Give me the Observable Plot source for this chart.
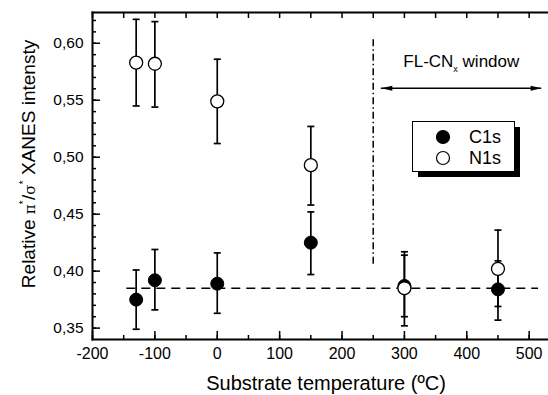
<!DOCTYPE html>
<html><head><meta charset="utf-8">
<script src="https://cdn.jsdelivr.net/npm/d3@7"></script>
<script src="https://cdn.jsdelivr.net/npm/@observablehq/plot@0.6"></script>
<style>body{margin:0;background:#fff} svg{display:block}</style>
</head><body><div id="chart"></div>
<script>
// ---- data ----
const temperatures = [-130, -100, 0, 150, 300, 450];
const c1sValues = [0.375, 0.392, 0.389, 0.425, 0.387, 0.384];
const c1sLow    = [0.349, 0.366, 0.363, 0.397, 0.360, 0.357];
const c1sHigh   = [0.401, 0.419, 0.416, 0.452, 0.414, 0.409];
const n1sValues = [0.583, 0.582, 0.549, 0.493, 0.385, 0.402];
const n1sLow    = [0.545, 0.544, 0.512, 0.458, 0.352, 0.369];
const n1sHigh   = [0.621, 0.619, 0.586, 0.527, 0.417, 0.436];
const xTicks = [-200, -100, 0, 100, 200, 300, 400, 500];
const xMinorTicks = d3.range(-200, 531, 50);
const yTicks = [0.35, 0.40, 0.45, 0.50, 0.55, 0.60];
const yMinorTicks = d3.range(35, 63).map(d => d / 100);
const xDomain = [-200, 531];
const yDomain = [0.34, 0.627];
const referenceLevel = [0.385];
const referenceSpan = [-145, 515];
const windowStart = [250];
const windowLineSpan = [0.406, 0.603];
const windowArrowSpan = [263, 520];
const windowArrowLevel = [0.5605];
const windowLabelPos = [392, 0.579];
const seriesNames = ["C1s", "N1s"];

const c1s = temperatures.map((t, i) => ({t, v: c1sValues[i], lo: c1sLow[i], hi: c1sHigh[i]}));
const n1s = temperatures.map((t, i) => ({t, v: n1sValues[i], lo: n1sLow[i], hi: n1sHigh[i]}));

const capSymbol = {draw(ctx) { ctx.moveTo(-3.5, 0); ctx.lineTo(3.5, 0); }};
const headSymbol = {draw(ctx) { ctx.moveTo(0, 0); ctx.lineTo(-11, -2.6); ctx.lineTo(-11, 2.6); ctx.closePath(); }};
const fmt = d => d.toFixed(2).replace(".", ",");
const xFmt = d => String(d);
const noLabel = () => "";

function errorMarks(data) {
  return [
    Plot.ruleX(data, {x: "t", y1: "lo", y2: "hi", stroke: "black", strokeWidth: 1.7}),
    Plot.dot(data, {x: "t", y: "lo", symbol: capSymbol, r: 3.5, stroke: "black", fill: "none", strokeWidth: 1.7}),
    Plot.dot(data, {x: "t", y: "hi", symbol: capSymbol, r: 3.5, stroke: "black", fill: "none", strokeWidth: 1.7})
  ];
}

const chart = Plot.plot({
  width: 548, height: 395,
  marginLeft: 92, marginRight: 0, marginTop: 12, marginBottom: 56,
  style: {fontFamily: "'Liberation Sans', Arial, sans-serif", fontSize: "15px", color: "black", background: "white"},
  x: {domain: xDomain},
  y: {domain: yDomain},
  marks: [
    // reference level
    Plot.ruleY(referenceLevel, {x1: referenceSpan[0], x2: referenceSpan[1], y: d => d, stroke: "black", strokeWidth: 1.5, strokeDasharray: "9,6"}),
    // window boundary
    Plot.ruleX(windowStart, {x: d => d, y1: windowLineSpan[0], y2: windowLineSpan[1], stroke: "black", strokeWidth: 1.5, strokeDasharray: "7,3,1.5,3"}),
    // window arrow
    Plot.ruleY(windowArrowLevel, {x1: windowArrowSpan[0], x2: windowArrowSpan[1], y: d => d, stroke: "black", strokeWidth: 1.6}),
    Plot.dot(windowArrowLevel, {x: windowArrowSpan[1], y: d => d, symbol: headSymbol, r: 4, fill: "black", stroke: "none"}),
    Plot.dot(windowArrowLevel, {x: windowArrowSpan[0], y: d => d, symbol: headSymbol, rotate: 180, r: 4, fill: "black", stroke: "none"}),
    // error bars + points
    ...errorMarks(c1s),
    Plot.dot(c1s, {x: "t", y: "v", r: 6.5, fill: "black", stroke: "black", strokeWidth: 1}),
    ...errorMarks(n1s),
    Plot.dot(n1s, {x: "t", y: "v", r: 6.5, fill: "white", stroke: "black", strokeWidth: 1.3}),
    // axes (inward ticks)
    Plot.axisX({ticks: xMinorTicks, tickFormat: noLabel, tickSize: -4, anchor: "bottom", label: null, strokeWidth: 1.5}),
    Plot.axisX({ticks: xTicks, tickFormat: xFmt, tickSize: -8, tickPadding: 16, anchor: "bottom", label: null, strokeWidth: 1.5, fontSize: 16}),
    Plot.axisX({ticks: xMinorTicks, tickFormat: noLabel, tickSize: -5, anchor: "top", label: null, strokeWidth: 1.5}),
    Plot.axisY({ticks: yMinorTicks, tickFormat: noLabel, tickSize: -4, anchor: "left", label: null, strokeWidth: 1.5}),
    Plot.axisY({ticks: yTicks, tickFormat: fmt, tickSize: -8, tickPadding: 17, anchor: "left", label: null, strokeWidth: 1.5, fontSize: 15.5}),
    // frame lines
    Plot.frame({anchor: "left", strokeWidth: 2}),
    Plot.frame({anchor: "top", strokeWidth: 2}),
    Plot.frame({anchor: "bottom", strokeWidth: 2})
  ]
});

const svg = d3.select(chart);
const sx = chart.scale("x"), sy = chart.scale("y");
const font = "'Liberation Sans', Arial, sans-serif";

// x label
svg.append("text").attr("x", 326).attr("y", 390).attr("text-anchor", "middle")
  .attr("font-family", font).attr("font-size", 20).attr("fill", "black")
  .text("Substrate temperature (ºC)");

// y label with superscript stars
const yl = svg.append("text").attr("transform", "translate(35,164) rotate(-90)")
  .attr("text-anchor", "middle").attr("font-family", font).attr("font-size", 19).attr("fill", "black");
yl.append("tspan").text("Relative ");
yl.append("tspan").attr("font-family", "'DejaVu Serif', serif").attr("font-size", 15).text("π");
yl.append("tspan").attr("dy", -8).attr("font-size", 11).text("*");
yl.append("tspan").attr("dy", 8).text("/");
yl.append("tspan").attr("font-family", "'DejaVu Serif', serif").attr("font-size", 15).text("σ");
yl.append("tspan").attr("dy", -8).attr("font-size", 11).text("*");
yl.append("tspan").attr("dy", 8).text(" XANES intensty");

// window label
const wl = svg.append("text").attr("x", sx.apply(windowLabelPos[0])).attr("y", sy.apply(windowLabelPos[1]))
  .attr("text-anchor", "middle").attr("font-family", font).attr("font-size", 17).attr("fill", "black");
wl.append("tspan").text("FL-CN");
wl.append("tspan").attr("dy", 5).attr("font-size", 9).text("x");
wl.append("tspan").attr("dy", -5).text(" window");

// legend
const lg = svg.append("g").attr("transform", "translate(412,121)");
lg.append("rect").attr("x", 6).attr("y", 6).attr("width", 102).attr("height", 50).attr("fill", "black");
lg.append("rect").attr("x", 0.5).attr("y", 0.5).attr("width", 102).attr("height", 50).attr("fill", "white").attr("stroke", "black");
seriesNames.forEach((name, i) => {
  const cy = 16 + i * 21;
  lg.append("circle").attr("cx", 31).attr("cy", cy).attr("r", 6.5).attr("fill", i === 0 ? "black" : "white").attr("stroke", "black").attr("stroke-width", 1.2);
  lg.append("text").attr("x", 57).attr("y", cy + 6).attr("text-anchor", "start").attr("font-family", font).attr("font-size", 18).attr("fill", "black").text(name);
});

document.getElementById("chart").appendChild(chart);
</script>
</body></html>
